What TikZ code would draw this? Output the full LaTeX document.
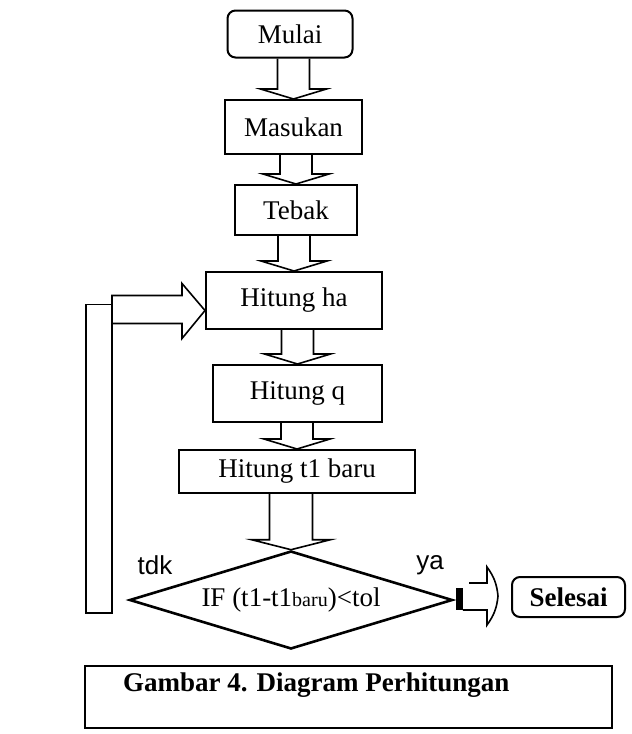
\documentclass[tikz,border=0pt]{standalone}
\usepackage{fontspec}
\setmainfont{Liberation Serif}
\newfontfamily\labelfont{Liberation Sans}
\usetikzlibrary{shapes.geometric,calc}

\tikzset{
  box/.style={draw,line width=1pt,inner sep=0pt},
  rbox/.style={box,rounded corners=4pt},
  hollow/.style={draw,line width=0.8pt,line join=miter},
  branch/.style={font=\fontsize{13}{16}\selectfont\labelfont},
}

%% hollow block arrow: from, to, shaft half width, head half width
\newcommand{\blockdown}[4]{%
  \draw[hollow] ($(#2.north |- #1.south)+(-#3,0)$) -- ($(#2.north)+(-#3,-10)$)
    -- ($(#2.north)+(-#4,-10)$) -- (#2.north) -- ($(#2.north)+(#4,-10)$)
    -- ($(#2.north)+(#3,-10)$) -- ($(#2.north |- #1.south)+(#3,0)$);}

\begin{document}
\begin{tikzpicture}[x=0.5pt,y=-0.5pt,font=\fontsize{13.5}{16}\selectfont]
        \useasboundingbox (0,0) rectangle (632,734);
        %% Steps
        \node[rbox,minimum width=62.5pt,minimum height=23.5pt] (start) at (290,34) {Mulai};
        \node[box,minimum width=68.5pt,minimum height=27pt] (input) at (293.5,127) {Masukan};
        \node[box,minimum width=61pt,minimum height=25pt] (guess) at (296,210) {Tebak};
        \node[box,minimum width=88pt,minimum height=28.5pt] (ha) at (294,300.5) {Hitung ha};
        \node[box,minimum width=84.5pt,minimum height=28.5pt] (q) at (297.5,393.5) {Hitung q};
        \node[box,minimum width=118pt,minimum height=21.5pt] (tnew) at (297,471.5) {Hitung t1 baru};
        %% Test
        \node[draw,diamond,line width=1.3pt,inner sep=0pt,aspect=3.3,
              minimum width=161.5pt,minimum height=49pt] (dia) at (291,600)
              {IF (t1-t1{\fontsize{10}{12}\selectfont baru})<tol};
        \node[branch] (no) at (155,565) {tdk};
        \node[branch] (yes) at (430,565) {ya};
        \node[rbox,font=\fontsize{13.5}{16}\selectfont\bfseries,
              minimum width=56.5pt,minimum height=20pt] (stop) at (568.5,597) {Selesai};
        %% Arrows
        \blockdown{start}{input}{16}{33}
        \blockdown{input}{guess}{16}{33}
        \blockdown{guess}{ha}{16}{33}
        \blockdown{ha}{q}{16}{33}
        \blockdown{q}{tnew}{16}{33}
        \blockdown{tnew}{dia}{21.5}{39.5}
        %% Loop back
        \coordinate (back) at ($(ha.west)+(0,10)$);
        \draw[hollow] ($(back)+(-93,-15)$) -- ($(back)+(-23,-15)$) -- ($(back)+(-23,-27)$)
          -- (back) -- ($(back)+(-23,28)$) -- ($(back)+(-23,13)$) -- ($(back)+(-93,13)$) -- cycle;
        \draw[hollow] ($(dia.west)+(-42,13)$) rectangle ($(back)+(-93,-6)$);
        %% Exit
        \coordinate (out) at ($(stop.west)+(-13,-1)$);
        \fill ($(dia.east)+(2,-12)$) rectangle ($(dia.east)+(9,10)$);
        \draw[hollow] ($(out)+(-29,-13)$) -- ($(out)+(-11,-13)$) -- ($(out)+(-11,-29)$)
          to[bend left=15] (out) to[bend left=15] ($(out)+(-11,29)$)
          -- ($(out)+(-11,14)$) -- ($(dia.east)+(9,10)$);
        %% Caption
        \node[box,anchor=north west,minimum width=263.5pt,minimum height=31pt] (capbox) at (84,665) {};
        \node[anchor=west,font=\fontsize{13.5}{16}\selectfont\bfseries] (captext)
          at ($(capbox.north west)+(32,20)$) {Gambar 4. Diagram Perhitungan};
    \end{tikzpicture}
\end{document}
